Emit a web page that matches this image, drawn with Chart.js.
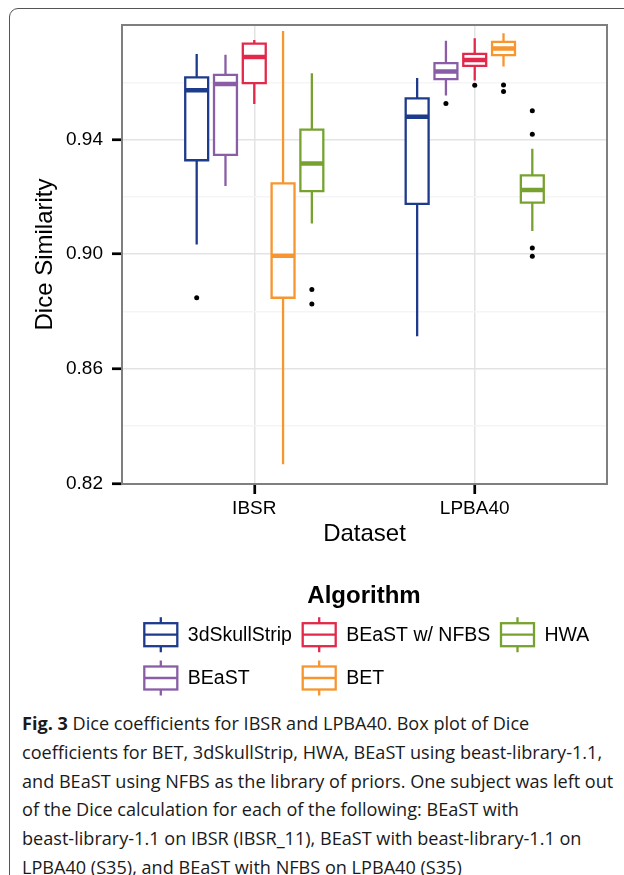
<!DOCTYPE html>
<html><head><meta charset="utf-8">
<script src="https://cdn.jsdelivr.net/npm/chart.js@4.4.1/dist/chart.umd.min.js"></script>
<style>
html,body{margin:0;padding:0;background:#fff;width:624px;height:875px;overflow:hidden;}
#frame{position:absolute;left:9px;top:8px;width:700px;height:900px;border:1.5px solid #555;border-radius:9px;box-sizing:border-box;}
#wrap{position:absolute;left:0;top:0;width:624px;height:700px;}
#caption{position:absolute;left:22px;top:709px;font-family:"Open Sans",sans-serif;font-size:18.1px;line-height:28.8px;color:#1a1a1a;white-space:nowrap;}
#caption b{font-weight:700;}
</style></head><body>
<div id="frame"></div>
<div id="wrap"><canvas id="c"></canvas></div>
<div id="caption"><b>Fig. 3</b> Dice coefficients for IBSR and LPBA40. Box plot of Dice<br>coefficients for BET, 3dSkullStrip, HWA, BEaST using beast-library-1.1,<br>and BEaST using NFBS as the library of priors. One subject was left out<br>of the Dice calculation for each of the following: BEaST with<br>beast-library-1.1 on IBSR (IBSR_11), BEaST with beast-library-1.1 on<br>LPBA40 (S35), and BEaST with NFBS on LPBA40 (S35)</div>
<script>
// ---- data ----
const categories = ['IBSR', 'LPBA40'];
const algorithms = ['3dSkullStrip', 'BEaST', 'BEaST w/ NFBS', 'BET', 'HWA'];
// per algorithm (same order as algorithms)
const ibsrLow    = [0.9034, 0.9238, 0.9524, 0.8267, 0.9107];
const ibsrQ1     = [0.9328, 0.9347, 0.9597, 0.8848, 0.9220];
const ibsrMedian = [0.9572, 0.9594, 0.9688, 0.8995, 0.9317];
const ibsrQ3     = [0.9617, 0.9626, 0.9735, 0.9247, 0.9435];
const ibsrHigh   = [0.9699, 0.9696, 0.9748, 0.9779, 0.9632];
const ibsrOutliers = [[0.8848], [], [], [], [0.8877, 0.8826]];
const lpbaLow    = [0.8714, 0.9554, 0.9606, 0.9655, 0.9081];
const lpbaQ1     = [0.9176, 0.9611, 0.9657, 0.9695, 0.9180];
const lpbaMedian = [0.9480, 0.9638, 0.9678, 0.9718, 0.9224];
const lpbaQ3     = [0.9544, 0.9667, 0.9699, 0.9741, 0.9275];
const lpbaHigh   = [0.9615, 0.9745, 0.9754, 0.9771, 0.9368];
const lpbaOutliers = [[], [0.9526], [0.9590], [0.9591, 0.9568], [0.9501, 0.9419, 0.9022, 0.8993]];
const yMajorTicks = [0.82, 0.86, 0.90, 0.94];
const yMinorTicks = [0.84, 0.88, 0.92, 0.96];

// ---- styles ----
const colors = ['#1c3b8b', '#8a5ea6', '#e2294b', '#f7952f', '#78a22f'];
const DODGE = 0.1306, HALF = 0.052;
const FONT = 'Liberation Sans';

const stats = [
  {low: ibsrLow, q1: ibsrQ1, med: ibsrMedian, q3: ibsrQ3, high: ibsrHigh, out: ibsrOutliers},
  {low: lpbaLow, q1: lpbaQ1, med: lpbaMedian, q3: lpbaQ3, high: lpbaHigh, out: lpbaOutliers}
];

const datasets = [];
algorithms.forEach((alg, a) => {
  const col = colors[a];
  const whisk = [], med = [], out = [];
  stats.forEach((s, c) => {
    const x = c + 1 + (a - 2) * DODGE;
    whisk.push({x, y: s.low[a]}, {x, y: s.q1[a]}, {x, y: null}, {x, y: s.q3[a]}, {x, y: s.high[a]}, {x, y: null});
    med.push({x: x - HALF, y: s.med[a]}, {x: x + HALF, y: s.med[a]}, {x, y: null});
    datasets.push({
      label: alg + ' box ' + categories[c],
      data: [{x: x - HALF, y: s.q1[a]}, {x: x + HALF, y: s.q1[a]}, {x: x + HALF, y: s.q3[a]}, {x: x - HALF, y: s.q3[a]}, {x: x - HALF, y: s.q1[a]}],
      showLine: true, fill: 'shape', backgroundColor: '#ffffff', borderColor: col, borderWidth: 2.3,
      borderJoinStyle: 'miter', borderCapStyle: 'square', pointRadius: 0, pointHoverRadius: 0, order: 2
    });
    s.out[a].forEach(v => out.push({x, y: v}));
  });
  datasets.push({label: alg + ' whiskers', data: whisk, showLine: true, spanGaps: false, borderColor: col, borderWidth: 2.3, pointRadius: 0, pointHoverRadius: 0, fill: false, order: 3});
  datasets.push({label: alg + ' median', data: med, showLine: true, spanGaps: false, borderColor: col, borderWidth: 4.5, pointRadius: 0, pointHoverRadius: 0, fill: false, order: 1});
  datasets.push({label: alg + ' outliers', data: out, showLine: false, pointRadius: 2.5, pointHoverRadius: 2.5, backgroundColor: '#000', borderWidth: 0, order: 0});
});

const isIn = (arr, v) => arr.some(t => Math.abs(t - v) < 1e-9);

const panelBorder = {
  id: 'panelBorder',
  afterDatasetsDraw(chart) {
    const {ctx, chartArea: a} = chart;
    ctx.save();
    ctx.strokeStyle = '#7f7f7f';
    ctx.lineWidth = 2;
    ctx.strokeRect(a.left, a.top, a.right - a.left, a.bottom - a.top);
    ctx.restore();
  }
};

const boxLegend = {
  id: 'boxLegend',
  afterDraw(chart) {
    const ctx = chart.ctx;
    ctx.save();
    ctx.fillStyle = '#000';
    ctx.font = 'bold 24px "' + FONT + '"';
    ctx.textAlign = 'center';
    ctx.textBaseline = 'middle';
    ctx.fillText('Algorithm', 364, 596);
    const colX = [143.3, 301.7, 500];
    const rowY = [634.7, 678];
    ctx.font = '19.5px "' + FONT + '"';
    ctx.textAlign = 'left';
    algorithms.forEach((alg, a) => {
      const x0 = colX[Math.floor(a / 2)], cy = rowY[a % 2];
      const w = 35, cx = x0 + w / 2;
      ctx.strokeStyle = colors[a];
      ctx.lineWidth = 2.3;
      ctx.lineJoin = 'miter';
      ctx.beginPath();
      ctx.moveTo(cx, cy - 17.5); ctx.lineTo(cx, cy - 11.5);
      ctx.moveTo(cx, cy + 11.5); ctx.lineTo(cx, cy + 17.5);
      ctx.moveTo(x0 + 1, cy); ctx.lineTo(x0 + w - 1, cy);
      ctx.stroke();
      ctx.strokeRect(x0 + 1, cy - 11.5, w - 2, 23);
      ctx.fillStyle = '#000';
      ctx.fillText(alg, x0 + 44.5, cy + 1);
    });
    ctx.restore();
  }
};

new Chart(document.getElementById('c'), {
  type: 'scatter',
  data: {datasets},
  plugins: [panelBorder, boxLegend],
  options: {
    responsive: true,
    maintainAspectRatio: false,
    animation: false,
    events: [],
    devicePixelRatio: 1,
    layout: {padding: {left: 10, right: 17, top: 25, bottom: 140}},
    plugins: {legend: {display: false}, tooltip: {enabled: false}},
    scales: {
      x: {
        type: 'linear', min: 0.4, max: 2.6,
        afterBuildTicks: s => { s.ticks = categories.map((_, i) => ({value: i + 1})); },
        afterFit: s => { s.height = 76; },
        ticks: {callback: v => categories[Math.round(v) - 1] || '', font: {family: FONT, size: 19}, color: '#000', padding: 3, autoSkip: false, maxRotation: 0},
        grid: {color: '#e3e3e3', lineWidth: 1.5, tickColor: '#000', tickLength: 10, tickWidth: 2.7},
        border: {display: false},
        title: {display: true, text: 'Dataset', font: {family: FONT, size: 24}, color: '#000', padding: {top: 0, bottom: 11.6}}
      },
      y: {
        type: 'linear', min: 0.8198, max: 0.98,
        afterBuildTicks: s => { s.ticks = yMajorTicks.concat(yMinorTicks).sort((p, q) => p - q).map(v => ({value: v})); },
        afterFit: s => { s.width = 112; },
        ticks: {callback: v => isIn(yMajorTicks, v) ? v.toFixed(2) : '', font: {family: FONT, size: 19}, color: '#000', padding: 9, autoSkip: false},
        grid: {
          color: c => isIn(yMajorTicks, c.tick.value) ? '#e3e3e3' : '#f5f5f5',
          lineWidth: 1.5,
          tickColor: c => isIn(yMajorTicks, c.tick.value) ? '#000' : 'rgba(0,0,0,0)',
          tickLength: 10, tickWidth: 2.7
        },
        border: {display: false},
        title: {display: true, text: 'Dice Similarity', font: {family: FONT, size: 24}, color: '#000', padding: {top: 21.4, bottom: 0}}
      }
    }
  }
});
</script>
</body></html>
